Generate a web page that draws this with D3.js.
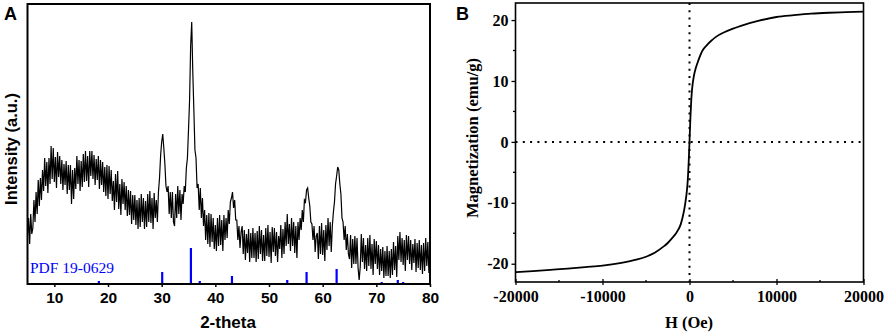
<!DOCTYPE html>
<html>
<head>
<meta charset="utf-8">
<script src="https://cdn.jsdelivr.net/npm/d3@7"></script>
<style>
  body { margin: 0; background: #fff; }
  svg { display: block; }
</style>
</head>
<body>
<svg width="886" height="334"></svg>
<script>
// ---- panel A: XRD pattern, 2-theta from 5 to 80 in 0.2 deg steps ----
var xrdStart = 5, xrdStep = 0.2;
var xrdIntensity = [
  48, 66, 40, 70, 50,      // 5
  56, 84, 62, 92, 70,      // 6
  104, 78, 106, 84, 114,   // 7
  93, 126, 98, 122, 91,    // 8
  126, 100, 138, 105, 136, // 9
  102, 127, 96, 132, 107,  // 10
  128, 100, 124, 94, 120,  // 11
  99, 123, 90, 119, 94,    // 12
  119, 80, 114, 85, 116,   // 13
  95, 128, 100, 124, 93,   // 14
  123, 97, 130, 102, 133,  // 15
  103, 128, 97, 133, 108,  // 16
  133, 105, 129, 99, 125,  // 17
  104, 128, 95, 124, 99,   // 18
  122, 92, 117, 88, 119,   // 19
  85, 118, 90, 114, 83,    // 20
  103, 74, 110, 82, 113,   // 21
  75, 100, 69, 105, 80,    // 22
  102, 74, 98, 68, 94,     // 23
  69, 93, 60, 89, 64,      // 24
  89, 59, 84, 55, 86,      // 25
  57, 90, 62, 86, 55,      // 26
  83, 57, 90, 62, 93,      // 27
  61, 86, 55, 91, 66,      // 28
  84, 62, 92, 106, 128,    // 29
  142, 150, 136, 120, 98,  // 30
  92, 98, 70, 92, 66,      // 31
  92, 62, 58, 90, 66,      // 32
  98, 70, 94, 64, 90,      // 33
  80, 98, 92, 116, 126,    // 34
  154, 184, 238, 262, 212, // 35
  174, 134, 126, 96, 100,  // 36
  74, 96, 66, 86, 58,      // 37
  74, 44, 69, 40, 71,      // 38
  37, 70, 42, 66, 35,      // 39
  59, 33, 66, 38, 69,      // 40
  39, 64, 33, 69, 44,      // 41
  66, 46, 74, 60, 82,      // 42
  86, 92, 76, 84, 64,      // 43
  64, 44, 58, 36, 52,      // 44
  58, 30, 54, 24, 50,      // 45
  31, 55, 22, 51, 26,      // 46
  56, 26, 51, 22, 53,      // 47
  25, 58, 30, 54, 23,      // 48
  49, 23, 56, 28, 59,      // 49
  27, 52, 21, 57, 32,      // 50
  56, 28, 52, 22, 48,      // 51
  35, 59, 26, 55, 30,      // 52
  62, 38, 70, 40, 60,      // 53
  33, 66, 38, 62, 31,      // 54
  58, 26, 62, 44, 66,      // 55
  54, 74, 62, 84, 82,      // 56
  94, 96, 86, 78, 62,      // 57
  60, 44, 58, 32, 48,      // 58
  51, 25, 58, 30, 61,      // 59
  29, 54, 23, 59, 34,      // 60
  66, 38, 62, 32, 58,      // 61
  72, 82, 100, 108, 117,   // 62
  114, 100, 90, 66, 62,    // 63
  44, 58, 34, 50, 30,      // 64
  25, 49, 16, 45, 20,      // 65
  48, 20, 46, 16, 4,       // 66
  17, 50, 22, 46, 15,      // 67
  39, 13, 46, 18, 49,      // 68
  15, 40, 9, 45, 20,       // 69
  43, 15, 39, 9, 35,       // 70
  13, 37, 6, 33, 8,        // 71
  38, 8, 33, 6, 35,        // 72
  9, 42, 14, 38, 7,        // 73
  48, 24, 52, 22, 46,      // 74
  19, 44, 13, 49, 24,      // 75
  48, 20, 44, 14, 40,      // 76
  21, 45, 12, 41, 16,      // 77
  44, 14, 39, 10, 41,      // 78
  13, 46, 18, 42, 11,      // 79
  36                       // 80
];

// reference card PDF 19-0629 (positions and stick heights)
var pdfAngles  = [18.3, 30.1, 35.45, 37.1, 43.1, 53.4, 57.0, 62.6, 65.7, 71.0, 74.0, 75.0, 79.0];
var pdfHeights = [3, 12, 36, 3, 8, 4, 12, 15, 1, 2, 4, 2, 1];

var xrdTicks = [10, 20, 30, 40, 50, 60, 70, 80];

// ---- panel B: magnetization loop ----
var fieldOe = [-20000, -18000, -16000, -14000, -12000, -10000, -8000, -6000, -5000, -4000,
  -3000, -2500, -2000, -1500, -1000, -700, -500, -300, -200, -100, 0, 100, 200, 300, 500,
  700, 1000, 1500, 2000, 2500, 3000, 4000, 5000, 6000, 8000, 10000, 12000, 14000, 16000,
  18000, 20000];
var magnet = [-21.4, -21.2, -21.0, -20.8, -20.55, -20.3, -19.9, -19.3, -18.85, -18.2,
  -17.2, -16.6, -15.8, -14.9, -13.5, -11.8, -10.2, -8.0, -6.3, -3.5, 0, 3.8, 6.8, 8.7, 10.8,
  12.0, 13.3, 15.0, 15.9, 16.6, 17.2, 18.0, 18.6, 19.1, 19.9, 20.5, 20.8, 21.05, 21.2,
  21.3, 21.4];

var hTicks = [-20000, -10000, 0, 10000, 20000];
var hMinor = [-15000, -5000, 5000, 15000];
var mTicks = [-20, -10, 0, 10, 20];
var mMinor = [-15, -5, 5, 15];

var svg = d3.select("svg");

// ================= panel A =================
var ax = d3.scaleLinear().domain([5, 80]).range([27.5, 430]);
var ay = d3.scaleLinear().domain([0, 280]).range([284, 4]);

var gA = svg.append("g");
gA.append("clipPath").attr("id", "clipA").append("rect")
  .attr("x", 27.5).attr("y", 4).attr("width", 402.5).attr("height", 280);

var xrd = xrdIntensity.map(function (v, i) { return [xrdStart + i * xrdStep, v]; });

gA.append("g").attr("clip-path", "url(#clipA)")
  .selectAll("line.pdf").data(pdfAngles).enter().append("line")
  .attr("class", "pdf")
  .attr("x1", function (d) { return ax(d); })
  .attr("x2", function (d) { return ax(d); })
  .attr("y1", ay(0))
  .attr("y2", function (d, i) { return ay(pdfHeights[i]); })
  .style("stroke", "#0000ff").style("stroke-width", 2.2);

gA.append("path").datum(xrd)
  .attr("clip-path", "url(#clipA)")
  .attr("d", d3.line().x(function (d) { return ax(d[0]); }).y(function (d) { return ay(d[1]); }))
  .style("fill", "none").style("stroke", "#000").style("stroke-width", 1.2);

gA.append("text").attr("x", 30).attr("y", 273)
  .style("font-family", "'Liberation Serif', 'Times New Roman', serif")
  .style("font-size", "15.5px").style("fill", "#0000ff")
  .text("PDF 19-0629");

var xAxisA = d3.axisBottom(ax).tickValues(xrdTicks).tickSize(3).tickSizeOuter(0).tickPadding(5);
var gxA = gA.append("g").attr("transform", "translate(0,284)").call(xAxisA);
gxA.select(".domain").remove();
gxA.selectAll("line").style("stroke", "#000").style("stroke-width", 1.5);
gxA.selectAll("text")
  .style("font-family", "'Liberation Sans', Arial, sans-serif")
  .style("font-weight", "bold").style("font-size", "15.5px").style("fill", "#000");

gA.append("rect").attr("x", 27.5).attr("y", 4).attr("width", 402.5).attr("height", 280)
  .style("fill", "none").style("stroke", "#000").style("stroke-width", 2);

gA.append("text").attr("x", 228).attr("y", 328).attr("text-anchor", "middle")
  .style("font-family", "'Liberation Sans', Arial, sans-serif")
  .style("font-weight", "bold").style("font-size", "17px").text("2-theta");

gA.append("text").attr("transform", "translate(17,149) rotate(-90)").attr("text-anchor", "middle")
  .style("font-family", "'Liberation Sans', Arial, sans-serif")
  .style("font-weight", "bold").style("font-size", "16.5px").text("Intensity (a.u.)");

gA.append("text").attr("x", 4).attr("y", 20)
  .style("font-family", "'Liberation Sans', Arial, sans-serif")
  .style("font-weight", "bold").style("font-size", "18px").text("A");

// ================= panel B =================
var bx = d3.scaleLinear().domain([-20000, 20000]).range([515.5, 863.5]);
var by = d3.scaleLinear().domain([-23, 22.8]).range([282, 3]);
var gB = svg.append("g");
var serif = "'Liberation Serif', 'Times New Roman', serif";
var plain = function (d) { return String(d); };

// dotted zero lines
gB.append("line").attr("x1", bx(-20000)).attr("x2", bx(20000)).attr("y1", by(0)).attr("y2", by(0))
  .style("stroke", "#000").style("stroke-width", 2).style("stroke-dasharray", "2,5.3");
gB.append("line").attr("x1", bx(0)).attr("x2", bx(0)).attr("y1", by(22.8)).attr("y2", by(-23))
  .style("stroke", "#000").style("stroke-width", 2).style("stroke-dasharray", "2,5.3");

var mh = fieldOe.map(function (h, i) { return [h, magnet[i]]; });
gB.append("path").datum(mh)
  .attr("d", d3.line().curve(d3.curveMonotoneX)
    .x(function (d) { return bx(d[0]); }).y(function (d) { return by(d[1]); }))
  .style("fill", "none").style("stroke", "#000").style("stroke-width", 1.8);

// axes
var xAxisB = d3.axisBottom(bx).tickValues(hTicks).tickFormat(plain)
  .tickSize(3).tickSizeOuter(0).tickPadding(6);
var gxB = gB.append("g").attr("transform", "translate(0,282)").call(xAxisB);
gxB.selectAll("line").attr("y1", -3);
gxB.selectAll(".minor").data(hMinor).enter().append("line").attr("class", "minor")
  .attr("x1", function (d) { return bx(d); }).attr("x2", function (d) { return bx(d); })
  .attr("y1", 0).attr("y2", -2);

var yAxisB = d3.axisLeft(by).tickValues(mTicks).tickFormat(plain)
  .tickSize(4).tickSizeOuter(0).tickPadding(3);
var gyB = gB.append("g").attr("transform", "translate(515.5,0)").call(yAxisB);
gyB.selectAll(".minor").data(mMinor).enter().append("line").attr("class", "minor")
  .attr("x1", 0).attr("x2", -2.5)
  .attr("y1", function (d) { return by(d); }).attr("y2", function (d) { return by(d); });

[gxB, gyB].forEach(function (g) {
  g.select(".domain").remove();
  g.selectAll("line").style("stroke", "#000").style("stroke-width", 1.3);
  g.selectAll("text").style("font-family", serif).style("font-weight", "bold")
    .style("font-size", "16px").style("fill", "#000");
});

gB.append("rect").attr("x", 515.5).attr("y", 3).attr("width", 348).attr("height", 279)
  .style("fill", "none").style("stroke", "#000").style("stroke-width", 1.6);

gB.append("text").attr("x", 689).attr("y", 328).attr("text-anchor", "middle")
  .style("font-family", serif).style("font-weight", "bold").style("font-size", "16.5px")
  .text("H (Oe)");

gB.append("text").attr("transform", "translate(478,138) rotate(-90)").attr("text-anchor", "middle")
  .style("font-family", serif).style("font-weight", "bold").style("font-size", "16.5px")
  .text("Magnetization (emu/g)");

gB.append("text").attr("x", 456).attr("y", 20)
  .style("font-family", "'Liberation Sans', Arial, sans-serif")
  .style("font-weight", "bold").style("font-size", "18px").text("B");
</script>
</body>
</html>
